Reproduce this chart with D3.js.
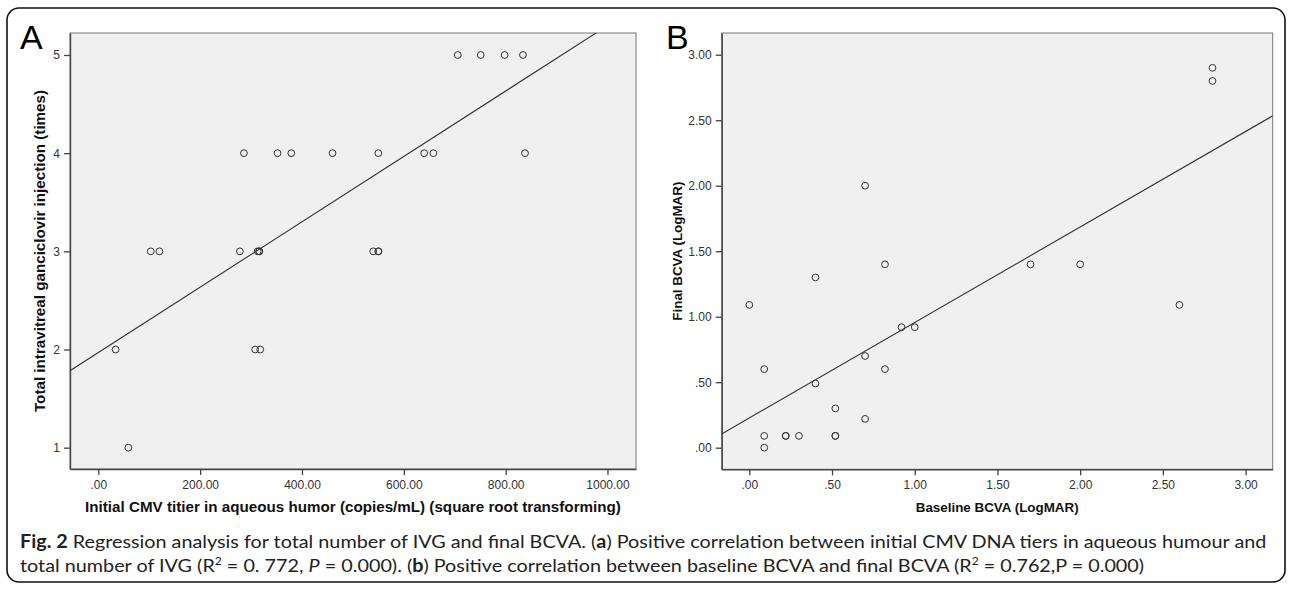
<!DOCTYPE html>
<html>
<head>
<meta charset="utf-8">
<script src="https://cdn.jsdelivr.net/npm/d3@7/dist/d3.min.js"></script>
<style>
  body { margin: 0; background: #fff; }
  .tick text { font-family: "Liberation Sans", Arial, sans-serif; font-size: 12px; fill: #333; }
  .tick line { stroke: #444; stroke-width: 1.3; }
  .domain { stroke: #444; stroke-width: 1.4; }
  .axtitle { font-family: "Liberation Sans", Arial, sans-serif; font-weight: bold; fill: #111; }
  .letter { font-family: "Liberation Sans", Arial, sans-serif; font-size: 34px; fill: #000; }
</style>
</head>
<body>
<script>
// Panel A: initial CMV titer (sqrt) vs total IVG injections
var cmvTiter = [706, 751, 798, 834,
                286, 352, 379, 460, 550, 640, 658, 838,
                103, 120, 278, 313, 316, 316, 540, 550, 550,
                34, 308, 318,
                59]
var ivgCount = [5, 5, 5, 5,
                4, 4, 4, 4, 4, 4, 4, 4,
                3, 3, 3, 3, 3, 3, 3, 3, 3,
                2, 2, 2,
                1]
var fitA = [1.969, 0.00333]   // intercept, slope
var ticksAX = [0, 200, 400, 600, 800, 1000]
var ticksAY = [1, 2, 3, 4, 5]

// Panel B: baseline BCVA vs final BCVA (LogMAR)
var baseBCVA  = [0.00, 0.40, 0.70, 0.82, 0.92, 1.00,
                 0.09, 0.40, 0.70, 0.82, 0.52, 0.70,
                 0.09, 0.09, 0.22, 0.22, 0.30, 0.52, 0.52,
                 2.80, 2.80, 1.70, 2.00, 2.60]
var finalBCVA = [1.09, 1.30, 2.00, 1.40, 0.92, 0.92,
                 0.60, 0.49, 0.70, 0.60, 0.30, 0.22,
                 0.09, 0.00, 0.09, 0.09, 0.09, 0.09, 0.09,
                 2.90, 2.80, 1.40, 1.40, 1.09]
var fitB = [0.227, 0.729]
var ticksB = [0, 0.5, 1, 1.5, 2, 2.5, 3]

var W = 1292, H = 590

var svg = d3.select("body").append("svg")
  .attr("width", W)
  .attr("height", H)

// outer rounded frame
svg.append("rect")
  .attr("x", 7).attr("y", 8)
  .attr("width", 1278).attr("height", 574)
  .attr("rx", 12)
  .attr("fill", "none")
  .attr("stroke", "#111")
  .attr("stroke-width", 1.6)

function spssFmt(v) {
  return d3.format(".2f")(v).replace(/^0\./, ".")
}

function drawPanel(p) {
  var x = d3.scaleLinear().domain(p.xDom).range([p.left, p.right])
  var y = d3.scaleLinear().domain(p.yDom).range([p.bottom, p.top])
  var g = svg.append("g")

  g.append("rect")
    .attr("x", p.left).attr("y", p.top)
    .attr("width", p.right - p.left).attr("height", p.bottom - p.top)
    .attr("fill", "#f0f0f0")
    .attr("stroke", "#777")
    .attr("stroke-width", 1)

  g.append("g")
    .attr("transform", "translate(0," + p.bottom + ")")
    .call(d3.axisBottom(x).tickValues(p.xTicks).tickFormat(p.xFmt)
      .tickSize(6).tickPadding(5).tickSizeOuter(0))

  g.append("g")
    .attr("transform", "translate(" + p.left + ",0)")
    .call(d3.axisLeft(y).tickValues(p.yTicks).tickFormat(p.yFmt)
      .tickSize(6).tickPadding(4).tickSizeOuter(0))

  // regression line, clipped to the plot box
  var clipId = "clip" + p.name
  g.append("clipPath").attr("id", clipId)
    .append("rect")
    .attr("x", p.left).attr("y", p.top)
    .attr("width", p.right - p.left).attr("height", p.bottom - p.top)

  var x0 = p.xDom[0], x1 = p.xDom[1]
  g.append("line")
    .attr("clip-path", "url(#" + clipId + ")")
    .attr("x1", x(x0)).attr("y1", y(p.fit[0] + p.fit[1] * x0))
    .attr("x2", x(x1)).attr("y2", y(p.fit[0] + p.fit[1] * x1))
    .attr("stroke", "#333")
    .attr("stroke-width", 1.1)

  g.selectAll("circle.pt")
    .data(d3.range(p.xs.length))
    .enter()
    .append("circle")
    .attr("class", "pt")
    .attr("cx", function (i) { return x(p.xs[i]) })
    .attr("cy", function (i) { return y(p.ys[i]) })
    .attr("r", 3.4)
    .attr("fill", "none")
    .attr("stroke", "#333")
    .attr("stroke-width", 1)

  g.append("text")
    .attr("class", "axtitle")
    .attr("font-size", p.titleSize)
    .attr("x", (p.left + p.right) / 2)
    .attr("y", 512)
    .attr("text-anchor", "middle")
    .text(p.xTitle)

  g.append("text")
    .attr("class", "axtitle")
    .attr("font-size", p.titleSize)
    .attr("transform", "translate(" + p.yTitleX + "," + (p.top + p.bottom) / 2 + ") rotate(-90)")
    .attr("dy", "0.35em")
    .attr("text-anchor", "middle")
    .text(p.yTitle)

  g.append("text")
    .attr("class", "letter")
    .attr("x", p.letterX)
    .attr("y", 49)
    .text(p.name)
}

drawPanel({
  name: "A",
  left: 70, right: 636, top: 33, bottom: 469,
  xDom: [-55.6, 1056], yDom: [0.783, 5.224],
  xTicks: ticksAX, yTicks: ticksAY,
  xFmt: spssFmt, yFmt: d3.format("d"),
  xs: cmvTiter, ys: ivgCount, fit: fitA,
  xTitle: "Initial CMV titier in aqueous humor (copies/mL) (square root transforming)",
  yTitle: "Total intravitreal ganciclovir injection (times)",
  titleSize: 15.2,
  yTitleX: 40, letterX: 20
})

drawPanel({
  name: "B",
  left: 721.7, right: 1272.7, top: 33, bottom: 469.3,
  xDom: [-0.167, 3.164], yDom: [-0.165, 3.166],
  xTicks: ticksB, yTicks: ticksB,
  xFmt: spssFmt, yFmt: spssFmt,
  xs: baseBCVA, ys: finalBCVA, fit: fitB,
  xTitle: "Baseline BCVA (LogMAR)",
  yTitle: "Final BCVA (LogMAR)",
  titleSize: 13.4,
  yTitleX: 677, letterX: 666
})

// caption
var captionLines = [
  [ { t: "Fig. 2", b: 1 },
    { t: " Regression analysis for total number of IVG and final BCVA. (" },
    { t: "a", b: 1 },
    { t: ") Positive correlation between initial CMV DNA tiers in aqueous humour and" } ],
  [ { t: "total number of IVG (R" },
    { t: "2", sup: 1 },
    { t: " = 0. 772, " },
    { t: "P", i: 1 },
    { t: " = 0.000). (" },
    { t: "b", b: 1 },
    { t: ") Positive correlation between baseline BCVA and final BCVA (R" },
    { t: "2", sup: 1 },
    { t: " = 0.762,P = 0.000)" } ]
]
var captionY = [548, 572]
var captionX = 20, captionW = 1247

var capNodes = captionLines.map(function (parts, li) {
  var txt = svg.append("text")
    .attr("x", 0).attr("y", 0)
    .attr("font-family", "Lato, 'Open Sans', sans-serif")
    .attr("font-size", 18)
    .attr("fill", "#222")
  var prevSup = false
  parts.forEach(function (s) {
    var ts = txt.append("tspan").text(s.t)
    if (s.b) ts.attr("font-weight", "bold")
    if (s.i) ts.attr("font-style", "italic")
    if (s.sup) { ts.attr("font-size", 11).attr("dy", -7); prevSup = true }
    else if (prevSup) { ts.attr("dy", 7); prevSup = false }
  })
  return txt
})
var sx = captionW / capNodes[0].node().getComputedTextLength()
capNodes.forEach(function (txt, li) {
  txt.attr("transform", "translate(" + captionX + "," + captionY[li] + ") scale(" + sx + ",1)")
})
</script>
</body>
</html>
